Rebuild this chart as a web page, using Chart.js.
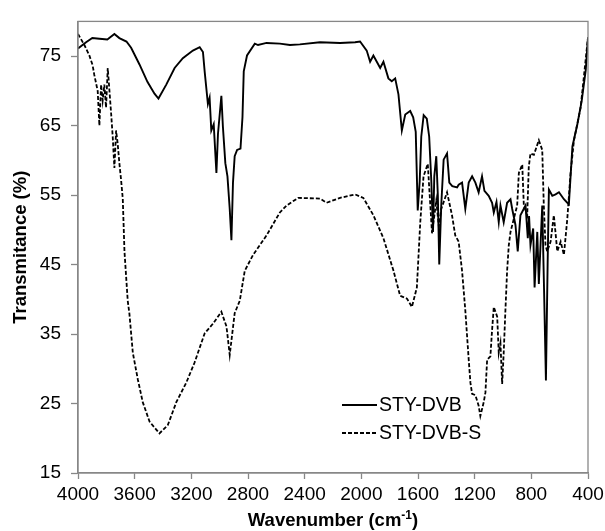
<!DOCTYPE html>
<html>
<head>
<meta charset="utf-8">
<script src="https://cdn.jsdelivr.net/npm/chart.js@4"></script>
<style>
  html, body { margin: 0; padding: 0; background: #fff; }
  #wrap { width: 605px; height: 531px; }
</style>
</head>
<body>
<div id="wrap"><canvas id="ftir" width="605" height="531"></canvas></div>
<script>
const xTicks = [400, 800, 1200, 1600, 2000, 2400, 2800, 3200, 3600, 4000];
const yTicks = [15, 25, 35, 45, 55, 65, 75];
const seriesNames = ["STY-DVB", "STY-DVB-S"];

// STY-DVB (solid)
const dvbWave = [
  4000, 3943, 3899, 3849, 3793, 3743, 3708, 3658, 3625, 3566, 3510, 3460, 3432, 3377, 3318, 3260,
  3189, 3141, 3118, 3106, 3083, 3071, 3059, 3042, 3023, 3012, 2988, 2977, 2960, 2945, 2929, 2917,
  2906, 2894, 2877, 2853, 2839, 2830, 2807, 2752, 2729, 2669, 2575, 2504, 2434, 2292, 2150, 2044,
  2009, 1962, 1938, 1915, 1891, 1867, 1844, 1809, 1785, 1761, 1738, 1714, 1690, 1655, 1634, 1616,
  1602, 1588, 1577, 1560, 1538, 1521, 1506, 1494, 1485, 1471, 1460, 1450, 1436, 1419, 1395, 1379,
  1358, 1324, 1313, 1289, 1266, 1242, 1218, 1195, 1172, 1148, 1131, 1101, 1077, 1065, 1046, 1030,
  1018, 995, 971, 947, 935, 912, 896, 877, 841, 825, 816, 806, 787, 777, 758, 747,
  723, 710, 697, 685, 676, 652, 629, 605, 570, 546, 535, 510, 475, 445, 416, 400
];
const dvbT = [
  76.1, 77.0, 77.6, 77.5, 77.4, 78.2, 77.6, 77.1, 76.2, 73.8, 71.3, 69.6, 68.9, 70.9, 73.3, 74.7,
  75.8, 76.3, 75.6, 72.8, 68.1, 69.0, 64.3, 65.2, 58.2, 63.8, 69.3, 64.8, 59.6, 57.7, 53.0, 48.5,
  56.8, 60.6, 61.5, 61.7, 66.2, 72.8, 75.1, 76.8, 76.6, 76.9, 76.8, 76.6, 76.7, 77.0, 76.9, 77.0,
  77.1, 75.8, 74.2, 75.1, 74.2, 73.3, 74.2, 71.8, 71.4, 71.8, 69.5, 64.3, 66.6, 67.1, 66.2, 64.1,
  52.8, 57.0, 63.4, 66.5, 66.0, 63.4, 57.0, 49.7, 57.7, 60.6, 55.0, 45.0, 53.5, 60.1, 61.0, 56.8,
  56.3, 56.1, 56.5, 56.8, 53.0, 56.8, 57.7, 56.8, 55.4, 57.7, 55.6, 54.9, 53.9, 52.5, 54.0, 51.1,
  53.5, 51.1, 53.9, 54.4, 53.0, 50.7, 46.9, 52.1, 53.5, 48.8, 52.0, 47.8, 50.2, 41.7, 49.7, 42.2,
  53.5, 41.2, 28.3, 45.0, 55.8, 54.9, 55.1, 55.4, 54.4, 53.9, 53.7, 62.0, 65.2, 68.5, 73.0, 77.7
];

// STY-DVB-S (dashed)
const dvbsWave = [
  4000, 3955, 3920, 3897, 3885, 3861, 3849, 3837, 3826, 3814, 3802, 3790, 3778, 3766, 3755, 3743,
  3731, 3720, 3708, 3696, 3684, 3672, 3649, 3637, 3613, 3578, 3543, 3495, 3425, 3366, 3306, 3236,
  3177, 3106, 3047, 2988, 2952, 2929, 2894, 2858, 2823, 2764, 2669, 2575, 2528, 2446, 2292, 2245,
  2150, 2044, 1986, 1915, 1844, 1773, 1726, 1678, 1643, 1608, 1584, 1561, 1531, 1501, 1471, 1453,
  1436, 1395, 1360, 1337, 1313, 1289, 1266, 1242, 1230, 1218, 1195, 1172, 1160, 1136, 1124, 1112,
  1089, 1077, 1065, 1041, 1030, 1018, 1006, 995, 983, 971, 959, 947, 900, 888, 864, 853,
  829, 818, 806, 782, 747, 723, 712, 700, 688, 664, 641, 617, 593, 570, 546, 523,
  499, 452, 400
];
const dvbsT = [
  78.2, 76.6, 75.1, 73.7, 72.3, 70.0, 65.0, 70.9, 68.6, 70.9, 67.6, 73.3, 70.0, 66.7, 63.4, 58.9,
  64.3, 62.4, 59.6, 57.2, 54.5, 46.9, 39.8, 37.9, 32.3, 28.5, 25.2, 22.4, 20.7, 21.9, 25.2, 28.0,
  30.9, 35.1, 36.5, 38.2, 36.1, 32.0, 38.0, 39.8, 44.1, 46.4, 49.2, 52.5, 53.5, 54.6, 54.5, 53.9,
  54.6, 55.1, 54.6, 52.1, 48.8, 44.1, 40.5, 40.1, 38.9, 41.7, 51.1, 57.7, 59.5, 49.5, 54.2, 50.5,
  53.0, 55.4, 52.1, 49.2, 48.3, 44.1, 38.4, 31.3, 28.0, 26.4, 26.2, 24.7, 23.2, 25.2, 26.6, 31.3,
  31.8, 35.6, 38.9, 37.5, 32.3, 33.7, 27.8, 32.3, 38.4, 44.1, 47.8, 49.7, 53.5, 58.2, 59.4, 53.5,
  52.1, 59.1, 61.0, 60.8, 62.9, 61.5, 53.5, 47.8, 46.9, 48.3, 52.1, 46.9, 48.3, 46.4, 51.6, 58.2,
  62.9, 67.6, 77.7
];

const toPoints = (xs, ys) => xs.map((x, i) => ({ x: x, y: ys[i] }));

const FONT = "'Liberation Sans', Arial, sans-serif";
const frameColor = "#878787";

// box around the plot area
const framePlugin = {
  id: "frame",
  afterDatasetsDraw(chart) {
    const { ctx, chartArea: a } = chart;
    ctx.save();
    ctx.strokeStyle = frameColor;
    ctx.lineWidth = 1.3;
    ctx.strokeRect(a.left, a.top, a.right - a.left, a.bottom - a.top);
    ctx.restore();
  },
};

// legend inside the plot + x title with superscript
const textPlugin = {
  id: "texts",
  afterDraw(chart) {
    const { ctx, chartArea: a } = chart;
    ctx.save();
    ctx.fillStyle = "#000";
    ctx.strokeStyle = "#000";
    ctx.lineWidth = 1.8;
    ctx.textBaseline = "middle";
    ctx.font = "19.5px " + FONT;
    const rows = [405, 433];
    rows.forEach((y, i) => {
      ctx.setLineDash(i === 0 ? [] : [4, 2]);
      ctx.beginPath();
      ctx.moveTo(342, y);
      ctx.lineTo(377, y);
      ctx.stroke();
      ctx.fillText(seriesNames[i], 379, y + 1);
    });
    ctx.setLineDash([]);

    // x axis title
    const main = "Wavenumber (cm";
    const sup = "-1";
    const tail = ")";
    ctx.textBaseline = "alphabetic";
    ctx.font = "bold 18.5px " + FONT;
    const wMain = ctx.measureText(main).width;
    const wTail = ctx.measureText(tail).width;
    ctx.font = "bold 12px " + FONT;
    const wSup = ctx.measureText(sup).width;
    const total = wMain + wSup + wTail;
    let x = (a.left + a.right) / 2 - total / 2;
    const base = 526;
    ctx.font = "bold 18.5px " + FONT;
    ctx.fillText(main, x, base);
    x += wMain;
    ctx.font = "bold 12px " + FONT;
    ctx.fillText(sup, x, base - 7);
    x += wSup;
    ctx.font = "bold 18.5px " + FONT;
    ctx.fillText(tail, x, base);
    ctx.restore();
  },
};

new Chart(document.getElementById("ftir").getContext("2d"), {
  type: "line",
  data: {
    datasets: [
      {
        label: seriesNames[0],
        data: toPoints(dvbWave, dvbT),
        borderColor: "#000",
        borderWidth: 1.9,
        pointRadius: 0,
        tension: 0,
      },
      {
        label: seriesNames[1],
        data: toPoints(dvbsWave, dvbsT),
        borderColor: "#000",
        borderWidth: 1.8,
        borderDash: [4, 2],
        pointRadius: 0,
        tension: 0,
      },
    ],
  },
  options: {
    responsive: false,
    animation: false,
    devicePixelRatio: 1,
    layout: { padding: { left: 0, right: 17, top: 13, bottom: 0 } },
    plugins: {
      legend: { display: false },
      tooltip: { enabled: false },
    },
    scales: {
      x: {
        type: "linear",
        reverse: true,
        min: 400,
        max: 4000,
        afterBuildTicks: (s) => { s.ticks = xTicks.map((v) => ({ value: v })); },
        afterFit: (s) => { s.height = 58; },
        grid: {
          drawOnChartArea: false,
          color: frameColor,
          tickLength: 6,
          tickWidth: 1.3,
        },
        border: { color: frameColor, width: 1.3 },
        ticks: {
          color: "#000",
          font: { family: FONT, size: 19 },
          padding: 4,
          maxRotation: 0,
          autoSkip: false,
          callback: (v) => String(v),
        },
      },
      y: {
        min: 15,
        max: 80,
        afterBuildTicks: (s) => { s.ticks = yTicks.map((v) => ({ value: v })); },
        afterFit: (s) => { s.width = 78; },
        grid: {
          drawOnChartArea: false,
          color: frameColor,
          tickLength: 7,
          tickWidth: 1.3,
        },
        border: { color: frameColor, width: 1.3 },
        ticks: {
          color: "#000",
          font: { family: FONT, size: 19 },
          padding: 10,
          callback: (v) => String(v),
        },
        title: {
          display: true,
          text: "Transmitance (%)",
          color: "#000",
          font: { family: FONT, size: 18.5, weight: "bold" },
          padding: { top: 10, bottom: 0 },
        },
      },
    },
  },
  plugins: [framePlugin, textPlugin],
});
</script>
</body>
</html>
